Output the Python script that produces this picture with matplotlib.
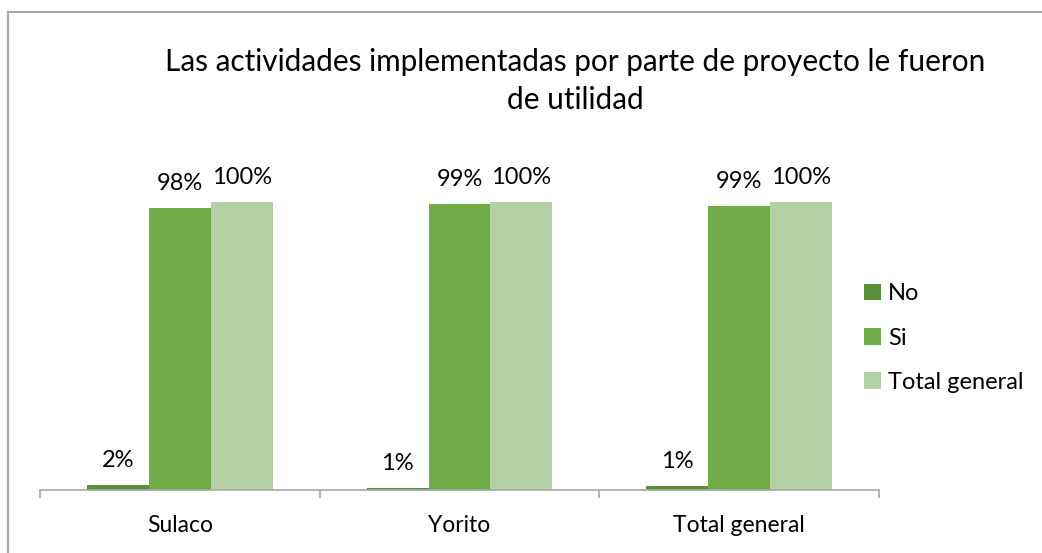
import matplotlib
matplotlib.use("Agg")
import matplotlib.pyplot as plt
import numpy as np

categories = ["Sulaco", "Yorito", "Total general"]
series_names = ["No", "Si", "Total general"]
no_vals = [0.017, 0.007, 0.014]
si_vals = [0.980, 0.993, 0.986]
total_vals = [1.0, 1.0, 1.0]
colors = ["#5A8F3A", "#70AD47", "#B4D1A6"]

plt.rcParams['font.family'] = ['Lato', 'DejaVu Sans']

fig = plt.figure(figsize=(10.42, 5.53), dpi=100)
W, H = 1042, 553
# chart border (top and left visible)
fig.add_artist(plt.Line2D([8/W, 8/W], [0, 1 - 12/H], color="#A6A6A6", lw=1.5))
fig.add_artist(plt.Line2D([8/W, 1], [1 - 12/H, 1 - 12/H], color="#A6A6A6", lw=1.5))

ax = fig.add_axes([40/W, 1 - 490/H, (879 - 40)/W, (490 - 144.4)/H])
x = np.arange(len(categories))
bw = 62 / 280
series = [no_vals, si_vals, total_vals]
for i, (name, vals, c) in enumerate(zip(series_names, series, colors)):
    bars = ax.bar(x + (i - 1) * bw, vals, bw, color=c, label=name, zorder=2)
    ax.bar_label(bars, labels=[f"{v*100:.0f}%" for v in vals], padding=10,
                 fontsize=17, color="#000000")

ax.set_xlim(-0.5, len(categories) - 0.5)
ax.set_ylim(0, 1.2)
for s in ["top", "right", "left"]:
    ax.spines[s].set_visible(False)
ax.spines["bottom"].set_color("#A6A6A6")
ax.spines["bottom"].set_linewidth(1.2)
ax.set_yticks([])
ax.set_xticks(x)
ax.set_xticklabels(categories, fontsize=16.5)
ax.tick_params(axis="x", which="major", length=0, pad=18)
ax.set_xticks(np.arange(-0.5, len(categories)), minor=True)
ax.tick_params(axis="x", which="minor", length=6, color="#A6A6A6", width=1.2)

fig.text(575/W, 1 - 62/H, "Las actividades implementadas por parte de proyecto le fueron",
         ha="center", va="center", fontsize=21.4)
fig.text(575/W, 1 - 100/H, "de utilidad", ha="center", va="center", fontsize=21.4)

leg = fig.legend(loc="upper left", bbox_to_anchor=(855/W, 1 - 274/H), frameon=False,
                 fontsize=17, handlelength=0.7, handleheight=0.7, handletextpad=0.3,
                 labelspacing=0.98, borderaxespad=0)

fig.savefig("out.png", dpi=100)
